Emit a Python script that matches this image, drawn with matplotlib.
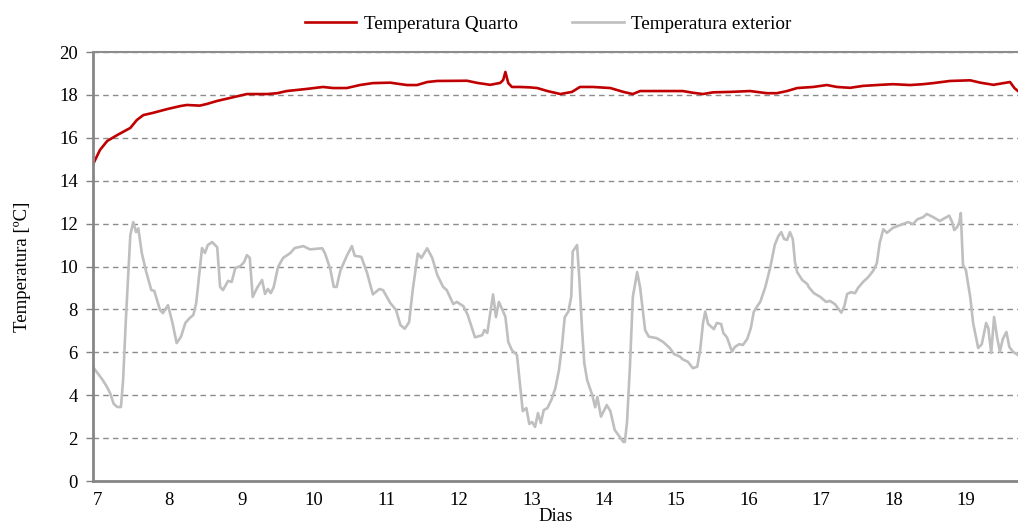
import matplotlib
matplotlib.use("Agg")
import matplotlib.pyplot as plt

# Temperatura exterior (dias, ºC)
dias_ext = [
    6.94, 7.01, 7.08, 7.14, 7.18, 7.23, 7.28, 7.33, 7.36, 7.40, 7.46, 7.50, 7.54, 7.57,
    7.62, 7.68, 7.75, 7.79, 7.87, 7.91, 7.98, 8.04, 8.10, 8.16, 8.22, 8.28, 8.33, 8.37,
    8.45, 8.49, 8.53, 8.59, 8.66, 8.70, 8.74, 8.81, 8.86, 8.91, 8.98, 9.03, 9.07, 9.11,
    9.15, 9.21, 9.28, 9.32, 9.36, 9.40, 9.44, 9.50, 9.57, 9.67, 9.73, 9.85, 9.94, 10.11,
    10.15, 10.22, 10.27, 10.31, 10.36, 10.45, 10.52, 10.56, 10.65, 10.73, 10.81, 10.90,
    10.95, 11.05, 11.13, 11.19, 11.25, 11.31, 11.36, 11.43, 11.48, 11.56, 11.63, 11.70,
    11.78, 11.83, 11.92, 11.97, 12.06, 12.12, 12.22, 12.32, 12.35, 12.39, 12.47, 12.51,
    12.55, 12.64, 12.68, 12.73, 12.80, 12.88, 12.93, 12.97, 13.01, 13.05, 13.09, 13.13,
    13.17, 13.22, 13.28, 13.33, 13.38, 13.42, 13.46, 13.51, 13.55, 13.57, 13.63, 13.66,
    13.70, 13.73, 13.77, 13.84, 13.88, 13.91, 13.96, 14.04, 14.09, 14.15, 14.22, 14.27,
    14.29, 14.32, 14.36, 14.40, 14.46, 14.50, 14.57, 14.62, 14.73, 14.82, 14.91, 14.97,
    15.05, 15.09, 15.16, 15.23, 15.29, 15.33, 15.37, 15.40, 15.44, 15.52, 15.56, 15.62,
    15.65, 15.70, 15.77, 15.81, 15.87, 15.92, 15.98, 16.03, 16.07, 16.12, 16.16, 16.23,
    16.30, 16.36, 16.41, 16.45, 16.49, 16.53, 16.57, 16.61, 16.64, 16.67, 16.74, 16.81,
    16.83, 16.90, 16.99, 17.07, 17.12, 17.19, 17.28, 17.32, 17.36, 17.41, 17.47, 17.51,
    17.58, 17.65, 17.72, 17.77, 17.81, 17.86, 17.91, 17.99, 18.09, 18.20, 18.27, 18.33,
    18.41, 18.46, 18.55, 18.64, 18.71, 18.77, 18.81, 18.84, 18.88, 18.91, 18.93, 18.96,
    19.00, 19.06, 19.10, 19.17, 19.22, 19.28, 19.31, 19.35, 19.39, 19.43, 19.47, 19.51,
    19.56, 19.60, 19.65, 19.72,
]
temp_ext = [
    5.33, 5.02, 4.70, 4.37, 4.10, 3.60, 3.45, 3.45, 4.70, 7.65, 11.47, 12.07, 11.60, 11.78,
    10.60, 9.74, 8.90, 8.87, 7.97, 7.83, 8.20, 7.40, 6.43, 6.73, 7.37, 7.60, 7.74, 8.30,
    10.86, 10.63, 11.00, 11.14, 10.90, 9.05, 8.90, 9.33, 9.28, 9.93, 10.02, 10.20, 10.53, 10.40,
    8.58, 9.00, 9.37, 8.72, 8.95, 8.76, 9.04, 9.98, 10.40, 10.63, 10.86, 10.95, 10.80, 10.85,
    10.60, 9.90, 9.05, 9.05, 9.80, 10.50, 10.95, 10.50, 10.45, 9.70, 8.70, 8.95,
    8.90, 8.30, 7.97, 7.27, 7.10, 7.40, 8.90, 10.60, 10.40, 10.85, 10.40, 9.60,
    9.05, 8.90, 8.25, 8.35, 8.15, 7.74, 6.70, 6.80, 7.04, 6.90, 8.70, 7.64,
    8.35, 7.66, 6.48, 6.10, 5.87, 3.26, 3.40, 2.66, 2.75, 2.52, 3.17, 2.70,
    3.31, 3.40, 3.82, 4.33, 5.17, 6.25, 7.64, 7.90, 8.60, 10.70, 11.00, 9.50,
    7.00, 5.49, 4.70, 4.00, 3.44, 3.92, 3.00, 3.54, 3.26, 2.38, 2.05, 1.82,
    1.82, 2.75, 5.32, 8.58, 9.74, 9.04, 7.04, 6.73, 6.66, 6.48, 6.20, 5.92,
    5.80, 5.67, 5.56, 5.26, 5.33, 6.10, 7.37, 7.90, 7.32, 7.08, 7.37, 7.32,
    6.90, 6.70, 6.03, 6.25, 6.38, 6.34, 6.62, 7.13, 7.88, 8.16, 8.35, 9.04,
    9.98, 11.00, 11.42, 11.60, 11.28, 11.24, 11.60, 11.28, 10.20, 9.74, 9.37, 9.18,
    9.04, 8.76, 8.58, 8.35, 8.40, 8.25, 7.85, 8.13, 8.72, 8.80, 8.76, 9.00,
    9.28, 9.50, 9.80, 10.15, 11.10, 11.74, 11.57, 11.80, 11.93, 12.07, 11.98, 12.20,
    12.30, 12.45, 12.30, 12.12, 12.26, 12.37, 12.07, 11.70, 11.84, 12.07, 12.49, 10.07,
    9.84, 8.58, 7.37, 6.20, 6.38, 7.37, 7.13, 5.97, 7.65, 6.72, 6.03, 6.62,
    6.95, 6.25, 6.03, 5.87,
]

# Temperatura do quarto (dias, ºC)
dias_quarto = [
    6.94, 7.04, 7.14, 7.28, 7.46, 7.55, 7.64, 7.77, 7.97, 8.15, 8.24, 8.42, 8.52, 8.66,
    8.84, 9.07, 9.35, 9.49, 9.62, 9.90, 10.12, 10.26, 10.45, 10.63, 10.81, 11.05, 11.28,
    11.42, 11.56, 11.70, 12.11, 12.25, 12.43, 12.57, 12.61, 12.64, 12.68, 12.73, 12.84,
    12.98, 13.08, 13.22, 13.40, 13.56, 13.67, 13.85, 14.09, 14.27, 14.40, 14.50, 14.82,
    15.09, 15.23, 15.37, 15.51, 15.75, 16.02, 16.25, 16.39, 16.53, 16.67, 16.89, 17.08,
    17.22, 17.40, 17.58, 17.77, 17.99, 18.23, 18.41, 18.55, 18.78, 19.06, 19.20, 19.38,
    19.61, 19.67, 19.72,
]
temp_quarto = [
    14.73, 15.43, 15.85, 16.13, 16.46, 16.83, 17.06, 17.16, 17.34, 17.48, 17.53, 17.50, 17.58, 17.72,
    17.86, 18.04, 18.04, 18.08, 18.18, 18.28, 18.37, 18.32, 18.32, 18.46, 18.55, 18.57, 18.46,
    18.46, 18.60, 18.65, 18.66, 18.56, 18.47, 18.56, 18.70, 19.07, 18.55, 18.37, 18.37,
    18.35, 18.32, 18.18, 18.04, 18.14, 18.37, 18.37, 18.32, 18.14, 18.04, 18.18, 18.18,
    18.18, 18.10, 18.04, 18.12, 18.14, 18.18, 18.08, 18.08, 18.18, 18.32, 18.37, 18.46,
    18.37, 18.33, 18.42, 18.46, 18.50, 18.46, 18.50, 18.55, 18.65, 18.68, 18.57, 18.47,
    18.60, 18.32, 18.18,
]

ticks_x = list(range(7, 20))
ticks_y = list(range(0, 21, 2))

plt.rcParams["font.family"] = ["Liberation Serif", "DejaVu Serif"]

fig = plt.figure(figsize=(10.18, 5.29), dpi=100)
ax = fig.add_axes([0.0914, 0.0907, 0.9086, 0.811])

ax.plot(dias_quarto, temp_quarto, color="#C00000", linewidth=1.9, label="Temperatura Quarto")
ax.plot(dias_ext, temp_ext, color="#BFBFBF", linewidth=1.9, label="Temperatura exterior")

ax.set_xlim(6.945, 19.72)
ax.set_ylim(0, 20)
ax.set_xticks(ticks_x)
ax.set_yticks(ticks_y)
ax.tick_params(axis="x", length=0, pad=8, labelsize=13.5)
ax.tick_params(axis="y", length=5, width=1, color="#808080", pad=6, labelsize=13.5)

ax.grid(axis="y", color="#8c8c8c", linestyle=(0, (4, 3)), linewidth=1.0)
ax.set_axisbelow(True)

for lado in ["left", "bottom"]:
    ax.spines[lado].set_color("#868686")
    ax.spines[lado].set_linewidth(2.0)
ax.spines["top"].set_color("#8c8c8c")
ax.spines["top"].set_linewidth(1.5)
ax.spines["right"].set_visible(False)

ax.set_xlabel("Dias", fontsize=13.5, labelpad=-1)
ax.set_ylabel("Temperatura [ºC]", fontsize=13.5, labelpad=20)

ax.legend(loc="lower center", bbox_to_anchor=(0.492, 1.005), ncol=2, frameon=False,
          fontsize=13.8, handlelength=2.7, handletextpad=0.4, columnspacing=2.8)

fig.savefig("out.png", dpi=100)
